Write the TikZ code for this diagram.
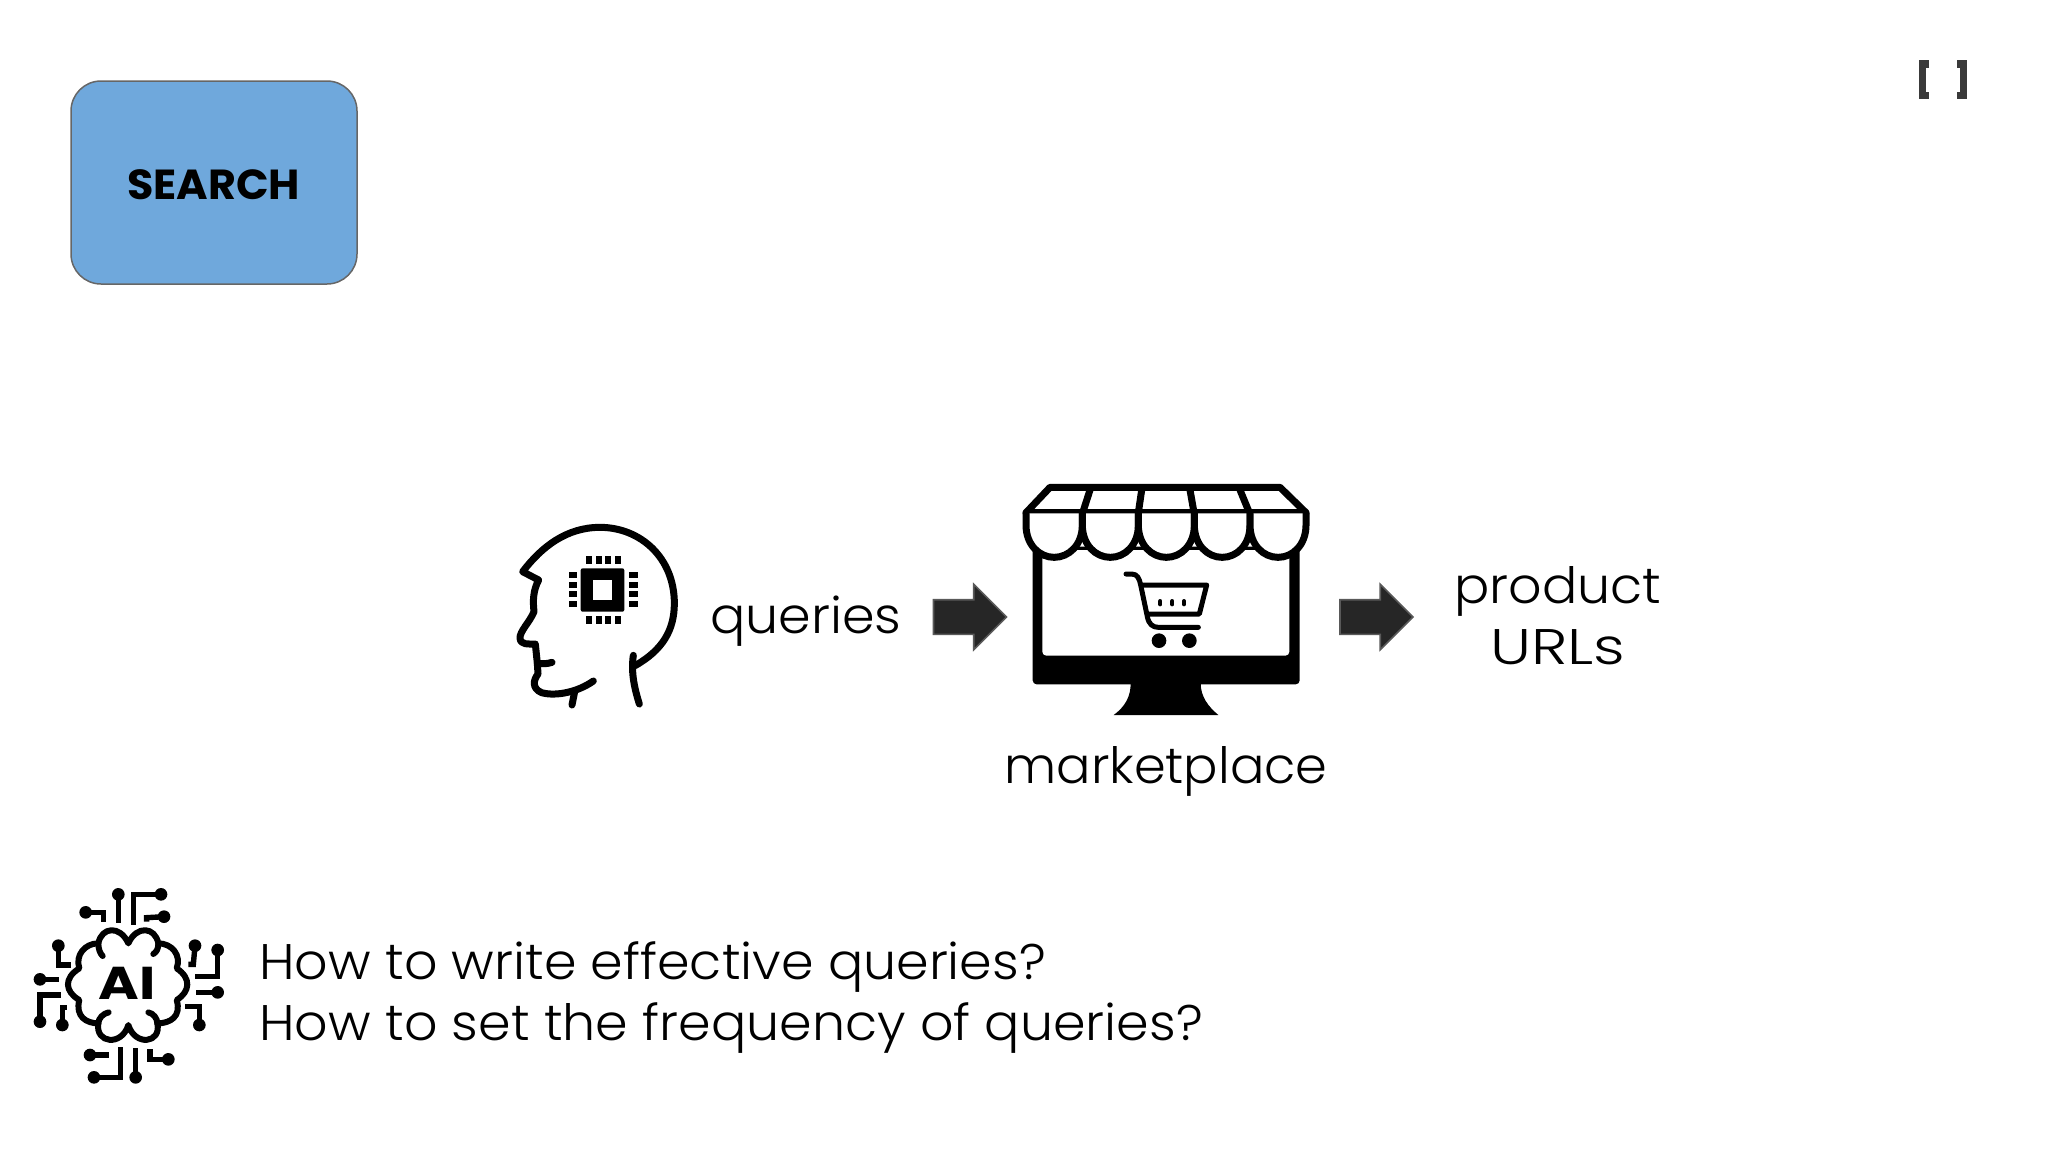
\documentclass[tikz,border=0pt]{standalone}
\usepackage{fontspec}
\usetikzlibrary{shapes.arrows}
\setmainfont{Poppins Light}[FakeStretch=1.046]
\newfontfamily\capsfont{Poppins Light}[FakeStretch=1.24]
\newfontfamily\marketfont{Poppins Light}[FakeStretch=1.02]
\newfontfamily\searchfont{Poppins Bold}[FakeStretch=1.02]
\newfontfamily\aifont{Poppins Bold}[FakeStretch=1.2]
\definecolor{boxblue}{HTML}{6FA8DC}
\definecolor{boxedge}{HTML}{666666}
\definecolor{arrowfill}{HTML}{262626}
\definecolor{arrowedge}{HTML}{595959}
\definecolor{bracketc}{HTML}{3A3A3A}
\tikzset{
  zoomed/.style={x=0.16667pt,y=-0.16667pt,line cap=round,line join=round},
  ink/.style={draw=black,line width=#1},
  ink/.default=3.5pt,
  trace/.style={draw=black,line width=2.7pt,line cap=butt,line join=miter},
  label/.style={anchor=base,inner sep=0pt,font=\fontsize{25}{30}\selectfont,text=black},
  blockarrow/.style={shape=single arrow,draw=arrowedge,fill=arrowfill,line width=0.8pt,inner sep=0pt,outer sep=0pt,
    minimum height=36.5pt,minimum width=32pt,single arrow head extend=7.75pt,single arrow tip angle=90,anchor=tip},
  bracket/.style={draw=bracketc,line width=3.6pt,line cap=butt,line join=miter},
}
\newcommand{\tdot}[1]{\fill[black] #1 circle[radius=19];}
\begin{document}
\begin{tikzpicture}[x=0.5pt,y=-0.5pt]
\useasboundingbox (0,0) rectangle (2048,1152);
% SEARCH box
\node[draw=boxedge,fill=boxblue,line width=0.75pt,rounded corners=15pt,minimum width=143pt,minimum height=101.5pt,inner sep=0pt] (search) at (214,182.5) {};
\node[inner sep=0pt,font=\fontsize{21}{24}\selectfont\searchfont] (searchlabel) at (213.5,184.5) {SEARCH};
% brackets
\draw[bracket] (1929,64) -- (1922.3,64) -- (1922.3,95.5) -- (1929,95.5);
\draw[bracket] (1957,64) -- (1963.7,64) -- (1963.7,95.5) -- (1957,95.5);
% head icon
\begin{scope}[shift={(500,500)},zoomed]
\draw[ink] (405,497) .. controls (488,450) and (523,390) .. (523,310)
  .. controls (523,172) and (420,82) .. (300,82)
  .. controls (200,82) and (125,140) .. (68,215) -- (116,240)
  .. controls (100,270) and (98,300) .. (102,335)
  .. controls (90,365) and (58,395) .. (60,415)
  .. controls (62,435) and (85,432) .. (106,432)
  -- (112,490) .. controls (125,492) and (140,492) .. (156,487);
\draw[ink] (112,490) -- (114,522) .. controls (100,540) and (95,565) .. (125,578)
  .. controls (170,590) and (235,575) .. (280,543);
\draw[ink] (224,575) -- (216,615);
\draw[ink] (400,466) .. controls (392,520) and (405,570) .. (418,612);
\fill[black,rounded corners=1pt] (242,205) rectangle (373,335);
\fill[white] (278,240) rectangle (337,299);
\foreach \x in {268,296,325,353} {\fill[black] (\x-9,167) rectangle (\x+9,192); \fill[black] (\x-9,347) rectangle (\x+9,372);}
\foreach \y in {226,254,283,311} {\fill[black] (206,\y-9) rectangle (231,\y+9); \fill[black] (388,\y-9) rectangle (413,\y+9);}
\end{scope}
% marketplace icon
\begin{scope}[shift={(1010,470)},zoomed]
\fill[black,rounded corners=2pt] (68,230) rectangle (869,643);
\fill[white,rounded corners=2pt] (97,240) rectangle (838,557);
\fill[black] (362,640) .. controls (362,680) and (345,710) .. (311,735) -- (625,735) .. controls (595,710) and (572,680) .. (572,640) -- cycle;
\draw[ink,fill=white] (120,52) -- (810,52) -- (888,128) -- (48,128) -- cycle;
\foreach \a/\b in {240/218,395/385,540/552,690/718} {\draw[ink] (\a,60) -- (\b,128);}
\foreach \l/\r in {48/217,217/385,385/553,553/720,720/888} {
  \draw[ink,fill=white] (\l,130) -- (\l,165) .. controls (\l,225) and ({(\l+\r)/2-44},262) .. ({(\l+\r)/2},262)
     .. controls ({(\l+\r)/2+44},262) and (\r,225) .. (\r,165) -- (\r,130);
}
\draw[ink=2.5pt] (348,312) -- (365,312) .. controls (382,312) and (388,325) .. (392,345) -- (412,440) .. controls (416,462) and (428,472) .. (445,472) -- (565,472);
\draw[ink=2.5pt] (398,345) -- (590,345) -- (568,432) -- (416,432);
\foreach \x in {451,487,522} {\draw[ink=2pt] (\x,393) -- (\x,403);}
\fill[black] (447,512) circle[radius=22];
\fill[black] (538,512) circle[radius=22];
\end{scope}
% AI icon
\begin{scope}[shift={(20,875)},zoomed]
\draw[ink=3pt] (325,205) .. controls (300,150) and (245,155) .. (235,205)
  .. controls (195,205) and (165,240) .. (178,280)
  .. controls (130,310) and (135,350) .. (178,375)
  .. controls (165,425) and (200,445) .. (235,445)
  .. controls (225,505) and (305,515) .. (325,450)
  .. controls (345,515) and (425,505) .. (412,445)
  .. controls (450,445) and (485,425) .. (470,375)
  .. controls (510,350) and (515,310) .. (470,280)
  .. controls (485,240) and (455,205) .. (415,205)
  .. controls (405,155) and (350,150) .. (325,205) -- cycle;
\draw[ink=3pt] (235,205) .. controls (235,222) and (240,235) .. (248,243);
\draw[ink=3pt] (415,205) .. controls (415,222) and (410,230) .. (400,237);
\draw[ink=3pt] (235,445) .. controls (235,430) and (250,415) .. (266,412);
\draw[ink=3pt] (412,445) .. controls (412,430) and (400,415) .. (385,412);
\node[inner sep=0pt,font=\fontsize{23}{26}\selectfont\aifont] (ailabel) at (322,325) {AI};
\draw[trace] (295,58) -- (295,145);
\draw[trace] (423,58) -- (340,58) -- (340,150);
\draw[trace] (197,112) -- (250,112) -- (250,142);
\draw[trace] (432,125) -- (380,128) -- (380,140);
\draw[trace] (115,212) -- (115,270) -- (152,270);
\draw[trace] (60,313) -- (118,313);
\draw[trace] (60,440) -- (60,360) -- (122,360);
\draw[trace] (127,450) -- (127,397) -- (140,397);
\draw[trace] (525,212) -- (520,268) -- (505,268);
\draw[trace] (593,225) -- (593,305) -- (525,305);
\draw[trace] (593,352) -- (528,352);
\draw[trace] (538,450) -- (538,395) -- (495,395);
\draw[trace] (210,540) -- (268,540);
\draw[trace] (222,607) -- (302,607) -- (302,515);
\draw[trace] (347,607) -- (347,520);
\draw[trace] (445,553) -- (390,553) -- (390,522);
\foreach \p in {(295,58),(423,58),(197,112),(432,125),(115,212),(60,313),(60,440),(127,450),(525,212),(593,225),(593,352),(538,450),(210,540),(222,607),(347,607),(445,553)} {\tdot{\p}}
\end{scope}
% labels
\node[label] (queries) at (806,633) {queries};
\node[label] (marketplace) at (1166,783) {\marketfont marketplace};
\node[label] (product) at (1558,603) {product};
\node[label] (urls) at (1558,664) {\capsfont URLs};
\node[label,anchor=base west] (q1) at (259,979) {How to write effective queries?};
\node[label,anchor=base west] (q2) at (259,1040) {How to set the frequency of queries?};
% block arrows
\node[blockarrow] (arrow1) at (1006.5,617) {\rule{0pt}{16.5pt}};
\node[blockarrow] (arrow2) at (1413,617) {\rule{0pt}{16.5pt}};
\end{tikzpicture}
\end{document}
